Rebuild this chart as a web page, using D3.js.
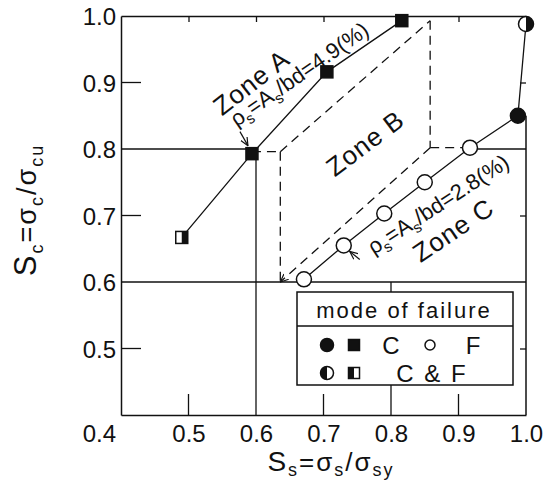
<!DOCTYPE html>
<html>
<head>
<meta charset="utf-8">
<script src="https://cdn.jsdelivr.net/npm/d3@7"></script>
<style>
  body { margin: 0; background: #fff; }
  svg { display: block; }
  text { font-family: "Liberation Sans", Arial, sans-serif; fill: #111; }
</style>
</head>
<body>
<svg id="chart" width="547" height="485"></svg>
<script>
// values
var tickVals = [0.4, 0.5, 0.6, 0.7, 0.8, 0.9, 1.0];
var minorTicks = [0.5, 0.7, 0.9];
var topTicks = [0.5, 0.6, 0.7, 0.9];

// series A : rho_s = 4.9 %  (squares)
var ssA = [0.490, 0.594, 0.705, 0.816];
var scA = [0.667, 0.793, 0.916, 0.993];
var modeA = ["CF", "C", "C", "C"];

// series B : rho_s = 2.8 %  (circles)
var ssB = [0.671, 0.730, 0.790, 0.850, 0.917, 0.988, 1.000];
var scB = [0.604, 0.655, 0.703, 0.750, 0.802, 0.850, 0.988];
var modeB = ["F", "F", "F", "F", "F", "C", "CF"];

// zone B boundary corners (dashed)
var zoneSs = [0.636, 0.858];
var zoneSc = [0.600, 0.796, 0.802, 0.993];

var svg = d3.select("#chart");
var x = d3.scaleLinear().domain([0.4, 1.0]).range([121, 526]);
var y = d3.scaleLinear().domain([0.4, 1.0]).range([415, 16]);

var defs = svg.append("defs");
defs.append("marker")
  .attr("id", "arr")
  .attr("viewBox", "0 -5 10 10")
  .attr("refX", 9).attr("refY", 0)
  .attr("markerWidth", 9).attr("markerHeight", 9)
  .attr("markerUnits", "userSpaceOnUse")
  .attr("orient", "auto")
  .append("path")
  .attr("d", "M0,-4L9,0L0,4")
  .attr("fill", "none").attr("stroke", "#111").attr("stroke-width", 1.3);

function seg(x1, y1, x2, y2, dash, w) {
  return svg.append("line")
    .attr("x1", x(x1)).attr("y1", y(y1))
    .attr("x2", x(x2)).attr("y2", y(y2))
    .attr("stroke", "#111")
    .attr("stroke-width", w || 1.3)
    .attr("stroke-dasharray", dash ? "9,6" : null);
}

// axes : left + bottom carry labels and frame
var left = svg.append("g").attr("transform", "translate(" + x(0.4) + ",0)")
  .call(d3.axisLeft(y).tickValues(tickVals).tickSize(0).tickPadding(5)
    .tickFormat(d3.format(".1f")));
var bottom = svg.append("g").attr("transform", "translate(0," + y(0.4) + ")")
  .call(d3.axisBottom(x).tickValues(tickVals.slice(1)).tickSize(0).tickPadding(10)
    .tickFormat(d3.format(".1f")));
svg.append("g").attr("transform", "translate(0," + y(1.0) + ")")
  .call(d3.axisTop(x).tickValues(topTicks).tickSize(-6).tickSizeOuter(0).tickFormat(""));
var right = svg.append("g").attr("transform", "translate(" + x(1.0) + ",0)")
  .call(d3.axisRight(y).tickValues([0.5, 0.7, 0.9]).tickSize(-6).tickFormat(""));
right.select(".domain").remove();
seg(1.0, 0.4, 1.0, 0.85, false, 1.5);

svg.selectAll(".domain").attr("stroke", "#111").attr("stroke-width", 1.5);
svg.selectAll(".tick line").attr("stroke", "#111").attr("stroke-width", 1.3);
left.selectAll("text").style("font-size", "24px").style("font-family", "Liberation Sans, Arial, sans-serif")
  .attr("dy", function(d) { return d === 0.4 ? "1.1em" : "0.36em"; });
bottom.selectAll("text").style("font-size", "24px").style("font-family", "Liberation Sans, Arial, sans-serif");

// long inner ticks on left and bottom
minorTicks.forEach(function(v) {
  svg.append("line").attr("x1", x(0.4)).attr("x2", x(0.4) + 20)
    .attr("y1", y(v)).attr("y2", y(v)).attr("stroke", "#111").attr("stroke-width", 1.3);
  svg.append("line").attr("x1", x(v)).attr("x2", x(v))
    .attr("y1", y(0.4)).attr("y2", y(0.4) - 21).attr("stroke", "#111").attr("stroke-width", 1.3);
});

// reference lines
seg(0.4, 0.8, ssA[1], 0.8);
seg(0.6, 0.4, 0.6, scA[1]);
seg(0.4, 0.6, 1.0, 0.6);
seg(0.8, 0.4, 0.8, 0.6);
seg(ssB[4], 0.8, 1.0, 0.8);

// zone B dashed boundary
seg(ssA[1], zoneSc[1], zoneSs[0], zoneSc[1], true);
seg(zoneSs[0], zoneSc[1], zoneSs[0], zoneSc[0], true);
seg(zoneSs[0], zoneSc[1], zoneSs[1], zoneSc[3], true);
seg(zoneSs[1], zoneSc[3], zoneSs[1], zoneSc[2], true);
seg(zoneSs[1], zoneSc[2], ssB[4], zoneSc[2], true);
seg(zoneSs[1], zoneSc[2], zoneSs[0], zoneSc[0], true).attr("marker-end", "url(#arr)");

// series lines
var line = d3.line().x(function(d) { return x(d[0]); }).y(function(d) { return y(d[1]); });
svg.append("path").datum(d3.zip(ssA, scA)).attr("d", line)
  .attr("fill", "none").attr("stroke", "#111").attr("stroke-width", 1.3);
svg.append("path").datum(d3.zip(ssB, scB)).attr("d", line)
  .attr("fill", "none").attr("stroke", "#111").attr("stroke-width", 1.3);

// markers
function square(g, cx, cy, s, mode, halfLeft) {
  g.append("rect").attr("x", cx - s / 2).attr("y", cy - s / 2).attr("width", s).attr("height", s)
    .attr("fill", mode === "C" ? "#111" : "#fff").attr("stroke", "#111").attr("stroke-width", 1.5);
  if (mode === "CF") {
    g.append("rect").attr("x", halfLeft ? cx - s / 2 : cx).attr("y", cy - s / 2)
      .attr("width", s / 2).attr("height", s).attr("fill", "#111");
  }
}
function circle(g, cx, cy, r, mode, halfLeft) {
  g.append("circle").attr("cx", cx).attr("cy", cy).attr("r", r)
    .attr("fill", mode === "C" ? "#111" : "#fff").attr("stroke", "#111").attr("stroke-width", 1.5);
  if (mode === "CF") {
    var a = d3.arc().innerRadius(0).outerRadius(r)
      .startAngle(halfLeft ? Math.PI : 0).endAngle(halfLeft ? 2 * Math.PI : Math.PI);
    g.append("path").attr("d", a()).attr("transform", "translate(" + cx + "," + cy + ")").attr("fill", "#111");
  }
}
var marks = svg.append("g");
ssA.forEach(function(v, i) { square(marks, x(v), y(scA[i]), 12, modeA[i], false); });
ssB.forEach(function(v, i) { circle(marks, x(v), y(scB[i]), 7.5, modeB[i], false); });

// rich text with subscripts; p = [text, isSub, ownSize]
function rich(g, parts, size, drop) {
  var t = g.append("text").style("font-size", size + "px");
  var down = false, shift = size * (drop || 0.25);
  parts.forEach(function(p) {
    var sub = p[1];
    var ts = t.append("tspan").text(p[0]);
    if (p[2]) ts.style("font-size", p[2] + "px");
    if (sub) {
      ts.style("font-size", Math.round(size * 0.68) + "px");
      if (!down) { ts.attr("dy", shift); down = true; }
    } else if (down) {
      ts.attr("dy", -shift); down = false;
    }
  });
  return t;
}
// centre of the letters at (cx, cy)
function label(cx, cy, ang, parts, size, sp) {
  var g = svg.append("g").attr("transform", "translate(" + cx + "," + cy + ") rotate(" + (-ang) + ")");
  rich(g, parts, size).attr("text-anchor", "middle").attr("y", size * 0.36)
    .style("letter-spacing", (sp || 0) + "px");
  return g;
}

label(251, 82, 38, [["Zone A"]], 26, 1);
label(299, 74, 35, [["ρ"], ["s", 1], ["=A"], ["s", 1], ["/bd=4.9(%)"]], 22);
label(365, 143, 37, [["Zone B"]], 26, 1);
label(438, 204, 33, [["ρ"], ["s", 1], ["=A"], ["s", 1], ["/bd=2.8(%)"]], 22);
label(453, 230, 34, [["Zone C"]], 26, 1);

// small pointer arrows
svg.append("line").attr("x1", x(ssA[1]) - 12).attr("y1", y(scA[1]) - 22)
  .attr("x2", x(ssA[1]) - 4).attr("y2", y(scA[1]) - 8)
  .attr("stroke", "#111").attr("stroke-width", 1.2).attr("marker-end", "url(#arr)");
svg.append("line").attr("x1", x(ssB[1]) + 16).attr("y1", y(scB[1]) + 14)
  .attr("x2", x(ssB[1]) + 6).attr("y2", y(scB[1]) + 6)
  .attr("stroke", "#111").attr("stroke-width", 1.2).attr("marker-end", "url(#arr)");

// axis titles
var yt = svg.append("g").attr("transform", "translate(36,210) rotate(-90)");
rich(yt, [["S", 0, 31], ["c", 1], ["=σ"], ["c", 1], ["/σ"], ["cu", 1]], 27)
  .attr("text-anchor", "middle").style("letter-spacing", "2px");
var xt = svg.append("g").attr("transform", "translate(331,471)");
rich(xt, [["S", 0, 28], ["s", 1], ["=σ"], ["s", 1], ["/σ"], ["sy", 1]], 26, 0.2)
  .attr("text-anchor", "middle").style("letter-spacing", "2px");

// legend
var lg = svg.append("g").attr("transform", "translate(297,292)");
lg.append("rect").attr("width", 216).attr("height", 93)
  .attr("fill", "#fff").attr("stroke", "#111").attr("stroke-width", 1.5);
lg.append("line").attr("x1", 0).attr("x2", 216).attr("y1", 34).attr("y2", 34)
  .attr("stroke", "#111").attr("stroke-width", 1.3);
lg.append("text").attr("x", 107).attr("y", 26).attr("text-anchor", "middle")
  .style("font-size", "22px").style("letter-spacing", "2px").text("mode of failure");
circle(lg, 30, 53, 6.5, "C", false);
square(lg, 57, 53, 11, "C", false);
lg.append("text").attr("x", 94).attr("y", 62).attr("text-anchor", "middle").style("font-size", "24px").text("C");
circle(lg, 133, 53, 5, "F", false);
lg.append("text").attr("x", 176).attr("y", 62).attr("text-anchor", "middle").style("font-size", "24px").text("F");
circle(lg, 30, 81, 6.5, "CF", true);
square(lg, 57, 81, 11, "CF", true);
lg.append("text").attr("x", 135).attr("y", 90).attr("text-anchor", "middle")
  .style("font-size", "24px").style("letter-spacing", "2px").text("C & F");
</script>
</body>
</html>
